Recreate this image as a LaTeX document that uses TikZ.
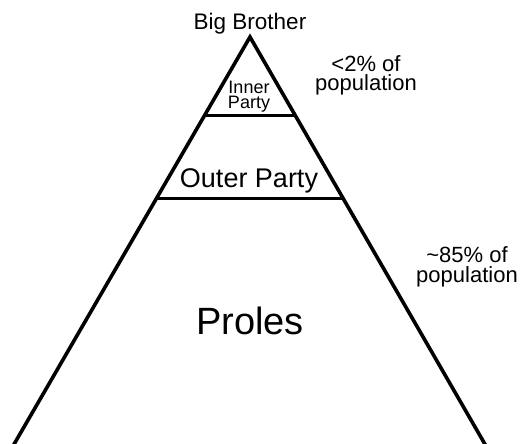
\documentclass[tikz,border=0pt]{standalone}
\usepackage{fontspec}
\setmainfont{Liberation Sans}
\usetikzlibrary{calc}
\tikzset{
  lbl/.style={inner sep=0pt, anchor=base, align=center},
  side/.style={line width=3.6pt, line join=miter, line cap=butt},
  tier/.style={line width=3pt}
}
\begin{document}
\begin{tikzpicture}[x=1pt,y=-1pt]
\useasboundingbox (0,0) rectangle (525,444);
\coordinate (apex) at (250,37);
\coordinate (bl) at (13,446);
\coordinate (br) at (486,446);
\draw[side] (bl) -- (apex) -- (br);
\coordinate (il) at ($(apex)!0.192!(bl)$);
\coordinate (ir) at ($(apex)!0.192!(br)$);
\coordinate (ol) at ($(apex)!0.395!(bl)$);
\coordinate (or) at ($(apex)!0.395!(br)$);
\draw[tier] (il) -- (ir);
\draw[tier] (ol) -- (or);
\node[lbl, font=\fontsize{22.5}{26}\selectfont] (bb) at (250,30) {Big Brother};
\node[lbl, font=\fontsize{18}{15}\selectfont] (inner) at (249,108) {Inner\\Party};
\node[lbl, font=\fontsize{27}{30}\selectfont] (outer) at (249,187) {Outer Party};
\node[lbl, font=\fontsize{38}{40}\selectfont] (proles) at (250,334) {Proles};
\node[lbl, font=\fontsize{22}{20}\selectfont] (small) at (366,91) {<2\% of\\population};
\node[lbl, font=\fontsize{22}{20}\selectfont] (large) at (467,282) {\textasciitilde85\% of\\population};
\end{tikzpicture}
\end{document}
